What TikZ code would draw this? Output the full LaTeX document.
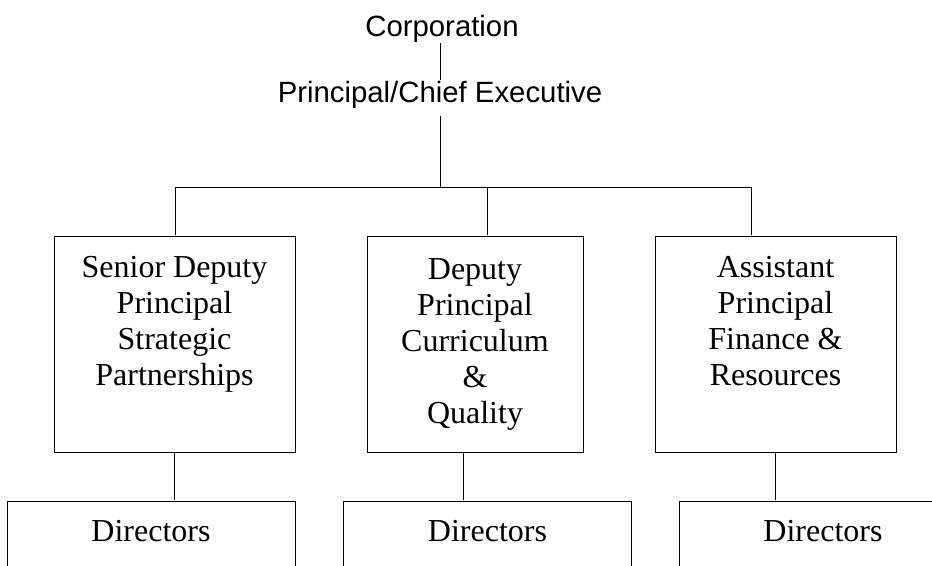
\documentclass[tikz,border=0pt]{standalone}
\usepackage{fontspec}
\setmainfont{Liberation Serif}
\newfontfamily\headfont{Liberation Sans}

\begin{document}
\begin{tikzpicture}[x=0.75pt,y=-0.75pt]
        \tikzset{
          line width=1.5pt,
          head/.style={
            font=\headfont\fontsize{22}{26}\selectfont,
            inner sep=0pt,
            anchor=base,
          },
          post/.style={
            draw,
            align=center,
            anchor=north,
            minimum height=162pt,
            font=\fontsize{24}{27}\selectfont,
          },
          dirbox/.style={
            draw,
            anchor=north,
            minimum width=216pt,
            inner ysep=0pt,
            text height=30pt,
            text depth=60pt,
            font=\fontsize{24}{27}\selectfont,
          },
        }
        \clip (0,0) rectangle (932,565);

        \node[head] (corp) at (442,36) {Corporation};
        \node[head] (pce) at (440,102) {Principal/Chief Executive};
        \node[post, minimum width=180.75pt] (sdp) at (174.5,235) {Senior Deputy\\Principal\\Strategic\\Partnerships\\\strut};
        \node[post, minimum width=162pt] (dpc) at (475,235) {Deputy\\Principal\\Curriculum\\\&\\Quality};
        \node[post, minimum width=180.75pt] (apf) at (775.5,235) {Assistant\\Principal\\Finance \&\\Resources\\\strut};
        \node[dirbox] (dir1) at (151,500) {Directors};
        \node[dirbox] (dir2) at (487.5,500) {Directors};
        \node[dirbox] (dir3) at (823,500) {Directors};

        \coordinate (busl) at (175,187);
        \coordinate (busm) at (487,187);
        \coordinate (busr) at (751,187);

        \draw (pce.north |- corp.south) -- (pce.north);
        \draw ([yshift=-5pt]pce.south) -- (pce.south |- busl);
        \draw (busl) -- (busr);
        \draw (busl) -- (busl |- sdp.north);
        \draw (busm) -- (busm |- dpc.north);
        \draw (busr) -- (busr |- apf.north);
        \draw (sdp.south) -- (sdp.south |- dir1.north);
        \draw ([xshift=-9pt]dpc.south) -- ([xshift=-9pt]dpc.south |- dir2.north);
        \draw (apf.south) -- (apf.south |- dir3.north);
\end{tikzpicture}
\end{document}
